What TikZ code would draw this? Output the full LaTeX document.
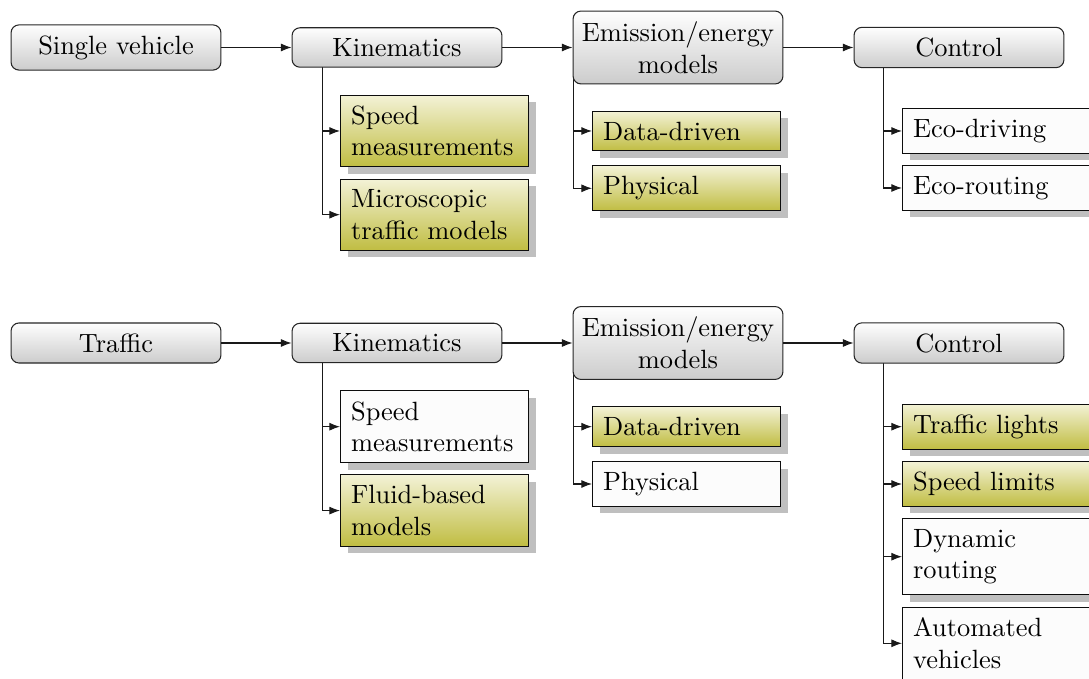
\documentclass[tikz,border=0pt]{standalone}
\usetikzlibrary{shadows,arrows.meta,backgrounds}
\definecolor{olvtop}{RGB}{243,242,214}
\definecolor{olvbot}{RGB}{192,189,66}
\definecolor{grytop}{RGB}{254,254,254}
\definecolor{grybot}{RGB}{204,204,204}
\definecolor{leafwhite}{RGB}{252,252,252}
\hyphenpenalty=10000
\exhyphenpenalty=10000
\begin{document}
\begin{tikzpicture}[x=0.37879pt,y=-0.37879pt,
 parent/.style={draw=black!85, rounded corners=3pt, top color=grytop, bottom color=grybot,
   text width=73pt, align=center, inner xsep=3.25pt, inner ysep=4pt},
 leaf/.style={draw=black!95, anchor=west, text width=63.2pt, align=flush left, inner xsep=4pt, inner ysep=4pt,
   drop shadow={shadow xshift=2.65pt,shadow yshift=-2.65pt,fill=black!25,opacity=1}},
 hl/.style={leaf, top color=olvtop, bottom color=olvbot},
 pl/.style={leaf, fill=leafwhite},
 conn/.style={-{Latex[length=4pt,width=3pt]}, draw=black!90}]
\useasboundingbox (0,0) rectangle (1089,679);
\clip (0,0) rectangle (1089,679);

% ---- top row
\node[parent] (sv) at (116,47.5) {Single vehicle};
\node[parent] (k1) at (397,47.5) {Kinematics};
\node[parent] (e1) at (678,47.5) {Emission/energy models};
\node[parent] (c1) at (959,47.5) {Control};

\node[hl] (k1a) at (340,131) {Speed measurements};
\node[hl] (k1b) at (340,214.7) {Microscopic traffic models};
\node[hl] (e1a) at (592,131) {Data-driven};
\node[hl] (e1b) at (592,188.3) {Physical};
\node[pl] (c1a) at (902,131) {Eco-driving};
\node[pl] (c1b) at (902,188) {Eco-routing};

% ---- bottom row
\node[parent] (tr) at (116,343) {Traffic};
\node[parent] (k2) at (397,343) {Kinematics};
\node[parent] (e2) at (678,343) {Emission/energy models};
\node[parent] (c2) at (959,343) {Control};

\node[pl] (k2a) at (340,426.7) {Speed measurements};
\node[hl] (k2b) at (340,510.6) {Fluid-based models};
\node[hl] (e2a) at (592,426.7) {Data-driven};
\node[pl] (e2b) at (592,484) {Physical};
\node[hl] (c2a) at (902,426.7) {Traffic lights};
\node[hl] (c2b) at (902,484) {Speed limits};
\node[pl] (c2c) at (902,556.7) {Dynamic routing};
\node[pl] (c2d) at (902,643.3) {Automated vehicles};

% ---- connectors
\draw[conn] (sv) -- (k1);
\draw[conn] (k1) -- (e1);
\draw[conn] (e1) -- (c1);
\draw[conn] (tr) -- (k2);
\draw[conn] (k2) -- (e2);
\draw[conn] (e2) -- (c2);

\coordinate (k1l) at (322.3,47.5);
\coordinate (e1l) at (573.2,47.5);
\coordinate (c1l) at (883.3,47.5);
\coordinate (k2l) at (322.3,343);
\coordinate (e2l) at (573.2,343);
\coordinate (c2l) at (883.3,343);

\begin{scope}[on background layer]
\draw[conn] (k1l) |- (k1a.west);
\draw[conn] (k1l) |- (k1b.west);
\draw[conn] (e1l) |- (e1a.west);
\draw[conn] (e1l) |- (e1b.west);
\draw[conn] (c1l) |- (c1a.west);
\draw[conn] (c1l) |- (c1b.west);
\draw[conn] (k2l) |- (k2a.west);
\draw[conn] (k2l) |- (k2b.west);
\draw[conn] (e2l) |- (e2a.west);
\draw[conn] (e2l) |- (e2b.west);
\draw[conn] (c2l) |- (c2a.west);
\draw[conn] (c2l) |- (c2b.west);
\draw[conn] (c2l) |- (c2c.west);
\draw[conn] (c2l) |- (c2d.west);
\end{scope}
\end{tikzpicture}
\end{document}
